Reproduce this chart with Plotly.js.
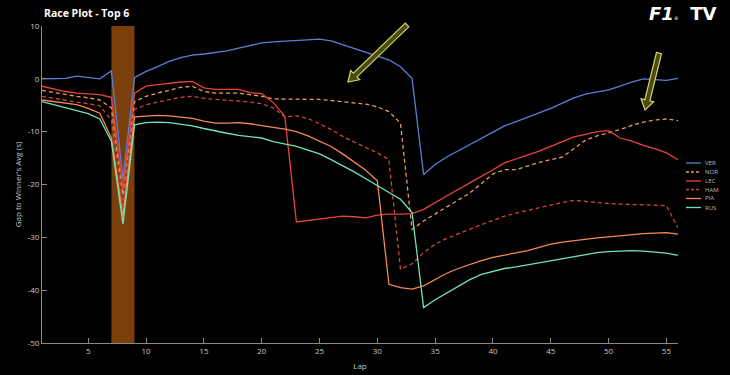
<!DOCTYPE html>
<html><head><meta charset="utf-8">
<script src="https://cdn.plot.ly/plotly-3.0.1.min.js"></script>
<style>html,body{margin:0;padding:0;background:#000;}#chart{width:730px;height:375px;}</style>
</head><body><div id="chart"></div>
<script>
const laps = [1,2,3,4,5,6,7,8,9,10,11,12,13,14,15,16,17,18,19,20,21,22,23,24,25,26,27,28,29,30,31,32,33,34,35,36,37,38,39,40,41,42,43,44,45,46,47,48,49,50,51,52,53,54,55,56];
const ver = [0,0,0.1,0.5,0.2,0,1.5,-19,0.2,1.4,2.3,3.3,4.0,4.5,4.7,5.0,5.3,5.8,6.3,6.8,7.0,7.1,7.3,7.4,7.5,7.2,6.5,5.8,5.1,4.4,3.6,2.3,0.1,-18.1,-16.2,-14.8,-13.6,-12.4,-11.2,-10.0,-8.9,-8.1,-7.3,-6.4,-5.6,-4.6,-3.6,-2.9,-2.5,-2.1,-1.4,-0.6,0,-0.1,-0.3,0.1];
const nor = [-2.2,-2.6,-3.0,-3.3,-3.6,-4.0,-5.5,-22,-4.3,-3.3,-2.7,-2.2,-1.6,-1.4,-2.4,-2.7,-2.7,-2.7,-3.0,-3.3,-3.8,-3.8,-3.8,-3.8,-3.9,-4.1,-4.3,-4.5,-4.8,-5.3,-6.2,-8.4,-28.5,-26.9,-25.6,-24.2,-22.9,-21.6,-19.8,-18.0,-17.2,-17.2,-16.5,-15.8,-15.3,-14.8,-13.2,-11.6,-10.8,-10.2,-9.6,-8.8,-8.2,-7.8,-7.6,-7.9];
const lec = [-1.4,-1.9,-2.4,-2.7,-2.9,-3.0,-3.5,-21,-2.7,-1.4,-1.1,-0.8,-0.6,-0.5,-1.7,-2.0,-2.0,-2.0,-2.6,-2.8,-4.5,-7.1,-27.1,-26.8,-26.6,-26.3,-26.0,-26.1,-26.3,-25.8,-25.6,-25.6,-25.5,-24.7,-23.4,-22.2,-20.9,-19.7,-18.5,-17.2,-15.9,-15.2,-14.5,-13.7,-12.8,-11.9,-11.0,-10.5,-10.0,-9.8,-11.2,-11.8,-12.6,-13.2,-14.0,-15.3];
const ham = [-3.3,-3.7,-4.0,-4.4,-4.7,-5.1,-7.8,-24,-5.8,-4.9,-4.4,-3.9,-3.5,-3.3,-3.7,-3.9,-4.0,-4.2,-4.4,-4.7,-5.5,-7.2,-7.0,-7.5,-8.5,-9.6,-10.9,-12.0,-13.0,-14.0,-15.3,-36.0,-35.0,-32.9,-31.3,-30.2,-29.3,-28.5,-27.6,-26.8,-26.0,-25.4,-24.9,-24.3,-23.8,-23.4,-23.0,-23.2,-23.5,-23.6,-23.7,-23.8,-23.9,-23.9,-24.0,-28.2];
const pia = [-4.0,-4.3,-4.6,-4.9,-5.6,-6.5,-11.2,-26,-7.2,-7.0,-6.9,-7.0,-7.2,-7.5,-8.0,-8.4,-8.4,-8.3,-8.5,-8.9,-9.2,-9.5,-10.0,-10.8,-11.8,-12.8,-14.2,-15.7,-17.3,-19.3,-38.9,-39.5,-39.8,-39.2,-38.0,-36.8,-35.9,-35.1,-34.4,-33.8,-33.4,-33.0,-32.5,-31.9,-31.3,-30.9,-30.6,-30.4,-30.1,-29.9,-29.7,-29.4,-29.3,-29.2,-29.1,-29.4];
const rus = [-4.3,-4.9,-5.5,-6.0,-6.6,-7.6,-11.8,-27.5,-8.7,-8.3,-8.2,-8.3,-8.6,-8.9,-9.4,-9.9,-10.3,-10.7,-11.0,-11.2,-11.9,-12.3,-12.8,-13.5,-14.2,-15.3,-16.4,-17.6,-18.9,-20.2,-21.5,-22.8,-25.3,-43.3,-41.8,-40.5,-39.2,-38.0,-37.0,-36.5,-35.9,-35.6,-35.2,-34.9,-34.5,-34.0,-33.6,-33.2,-32.9,-32.7,-32.6,-32.5,-32.6,-32.8,-33.0,-33.4];
const drivers = ['VER','NOR','LEC','HAM','PIA','RUS'];
const series = [ver, nor, lec, ham, pia, rus];
const colors = ['#5b7fd6','#eb9a5c','#e8443a','#d2443f','#f48a52','#72e3b8'];
const dashes = ['solid','4px,3px','solid','4px,3px','solid','solid'];
const xTicks = [5,10,15,20,25,30,35,40,45,50,55];
const yTicks = [-50,-40,-30,-20,-10,0,10];
const pitWindow = [7, 9];

const L=42,R=678,T=26,B=343;
const px = x => (x-L)/(R-L);
const py = y => (B-y)/(B-T);

function arrowPath(tx,ty,hx,hy,w,hw,hl){
  const dx=hx-tx, dy=hy-ty, len=Math.hypot(dx,dy);
  const ux=dx/len, uy=dy/len, nx=-uy, ny=ux;
  const bx=hx-ux*hl, by=hy-uy*hl;
  const pts=[[tx+nx*w,ty+ny*w],[bx+nx*w,by+ny*w],[bx+nx*hw,by+ny*hw],[hx,hy],[bx-nx*hw,by-ny*hw],[bx-nx*w,by-ny*w],[tx-nx*w,ty-ny*w]];
  return 'M'+pts.map(p=>px(p[0]).toFixed(4)+','+py(p[1]).toFixed(4)).join(' L')+' Z';
}

const traces = drivers.map((d,i)=>({
  x: laps, y: series[i], type:'scatter', mode:'lines', name:d,
  line:{color:colors[i], width:1.3, dash:dashes[i]}, showlegend:false
}));

const shapes = [{
  type:'rect', xref:'x', yref:'y', x0:pitWindow[0], x1:pitWindow[1], y0:-50, y1:10,
  fillcolor:'#7a3f0c', line:{width:0}, layer:'below'
},{
  type:'path', xref:'paper', yref:'paper', path:arrowPath(407,25,348,82,2.6,6.5,10),
  fillcolor:'#4a4a12', line:{color:'#d6d66a', width:1.2}
},{
  type:'path', xref:'paper', yref:'paper', path:arrowPath(659,53,645,110,2.6,6.5,10),
  fillcolor:'#4a4a12', line:{color:'#d6d66a', width:1.2}
}];
const annotations = [{
  xref:'paper', yref:'paper', x:0, y:py(13), xanchor:'left', yanchor:'middle',
  text:'<b>Race Plot - Top 6</b>', showarrow:false, font:{family:'Open Sans', size:10.5, color:'#ffffff'}
},{
  xref:'paper', yref:'paper', x:px(719), y:py(13), xanchor:'right', yanchor:'middle',
  text:'<b><i>F1</i></b><span style="font-size:5px">®</span>  <b>TV</b>', showarrow:false,
  font:{family:'DejaVu Sans', size:18, color:'#ffffff'}
}];
const legY = [163,172,181,189.5,198.5,207.5];
drivers.forEach((d,i)=>{
  shapes.push({type:'line', xref:'paper', yref:'paper', x0:px(686), x1:px(701), y0:py(legY[i]), y1:py(legY[i]),
    line:{color:colors[i], width:1.3, dash: dashes[i]==='solid'?'solid':'3px,2px'}});
  annotations.push({xref:'paper', yref:'paper', x:px(703), y:py(legY[i]), xanchor:'left', yanchor:'middle',
    text:d, showarrow:false, font:{family:'Open Sans', size:6, color:'#bbbbbb'}});
});

const axisCommon = {showgrid:false, zeroline:false, showline:true, linecolor:'#8a8a8a', linewidth:1,
  ticks:'inside', ticklen:5, tickcolor:'#8a8a8a', tickfont:{family:'Open Sans', size:8, color:'#c8c8c8'}};
const layout = {
  width:730, height:375, paper_bgcolor:'#000', plot_bgcolor:'#000',
  margin:{l:L, r:730-R, t:T, b:375-B},
  showlegend:false,
  xaxis:Object.assign({}, axisCommon, {range:[1,56], tickvals:xTicks, ticktext:xTicks.map(String),
    title:{text:'Lap', font:{family:'Open Sans', size:8, color:'#c8c8c8'}, standoff:8}}),
  yaxis:Object.assign({}, axisCommon, {range:[-50,10], tickvals:yTicks, ticktext:yTicks.map(v=>v<0?'-'+Math.abs(v):String(v)),
    title:{text:"Gap to Winner's Avg (s)", font:{family:'Open Sans', size:8, color:'#c8c8c8'}, standoff:4}}),
  shapes:shapes, annotations:annotations
};
Plotly.newPlot('chart', traces, layout, {displayModeBar:false, staticPlot:true});
</script>
</body></html>
